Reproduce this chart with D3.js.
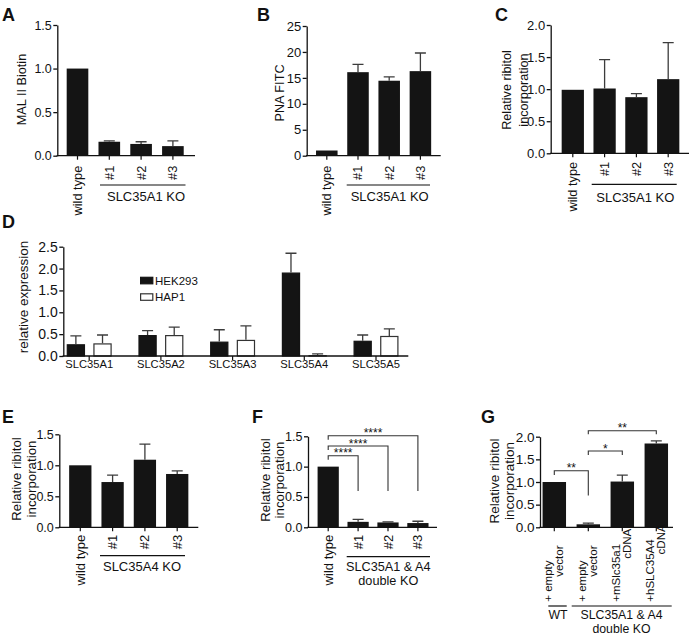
<!DOCTYPE html>
<html><head><meta charset="utf-8">
<script src="https://cdn.jsdelivr.net/npm/d3@7"></script>
<style>
body{margin:0;background:#fff;}
svg text{font-family:"Liberation Sans",Arial,Helvetica,sans-serif;fill:#111;}
</style></head><body>
<svg id="c" width="690" height="636"></svg>
<script>
// ---------- data ----------
const koCats = ["wild type", "#1", "#2", "#3"];
const aVals = [1.0, 0.16, 0.135, 0.11];
const aErr  = [0, 0.01, 0.025, 0.06];
const bVals = [1.0, 16.1, 14.45, 16.3];
const bErr  = [0, 1.5, 0.75, 3.5];
const cVals = [0.99, 1.01, 0.875, 1.156];
const cErr  = [0, 0.45, 0.055, 0.57];
const dGenes = ["SLC35A1", "SLC35A2", "SLC35A3", "SLC35A4", "SLC35A5"];
const dSeries = ["HEK293", "HAP1"];
const dHek    = [0.27, 0.48, 0.33, 1.91, 0.35];
const dHekErr = [0.19, 0.10, 0.27, 0.44, 0.13];
const dHap    = [0.29, 0.48, 0.37, 0.02, 0.46];
const dHapErr = [0.19, 0.18, 0.32, 0.03, 0.16];
const eVals = [1.0, 0.73, 1.09, 0.86];
const eErr  = [0, 0.11, 0.25, 0.05];
const fVals = [1.0, 0.09, 0.08, 0.07];
const fErr  = [0, 0.04, 0.01, 0.03];
const gCats  = ["WT empty", "DKO empty", "DKO mSlc35a1", "DKO hSLC35A4"];
const gLine1 = ["+ empty", "+ empty", "+mSlc35a1", "+hSLC35A4"];
const gLine2 = ["vector", "vector", "cDNA", "cDNA"];
const gVals = [1.0, 0.066, 1.01, 1.85];
const gErr  = [0, 0.024, 0.14, 0.06];
const fSig = [{a: 0, b: 1, label: "****"}, {a: 0, b: 2, label: "****"}, {a: 0, b: 3, label: "****"}];
const gSig = [{a: 0, b: 1, label: "**"}, {a: 1, b: 2, label: "*"}, {a: 1, b: 3, label: "**"}];
const ticks15 = [0, 0.5, 1.0, 1.5];
const ticks20 = [0, 0.5, 1.0, 1.5, 2.0];
const ticks25 = [0, 0.5, 1.0, 1.5, 2.0, 2.5];
const ticksB  = [0, 5, 10, 15, 20, 25];

// ---------- drawing ----------
const svg = d3.select("#c");
const BAR = "#141414", ERR = "#3c3c3c", AX = "#111";
const FONT = '"Liberation Sans",Arial,Helvetica,sans-serif';

function letter(t, x, y) {
  svg.append("text").attr("x", x).attr("y", y).attr("font-size", 18)
    .attr("font-weight", "bold").text(t);
}

function yAxis(g, y, x0, ticks, fmt, fs) {
  const ax = g.append("g").attr("transform", `translate(${x0},0)`)
    .call(d3.axisLeft(y).tickValues(ticks).tickFormat(fmt).tickSize(4).tickSizeOuter(0).tickPadding(1.5));
  ax.attr("font-size", fs).attr("font-family", FONT);
  ax.selectAll("path,line").attr("stroke", AX).attr("stroke-width", 1.3);
  ax.selectAll("text").attr("fill", "#111");
  return ax;
}

function yTitle(g, lines, xs, yc, fs) {
  lines.forEach((t, i) => g.append("text")
    .attr("transform", `translate(${xs[i]},${yc}) rotate(-90)`)
    .attr("text-anchor", "middle").attr("dy", "0.35em").attr("font-size", fs).text(t));
}

function group(g, x0, x1, ly, lines, cx, bases, fs) {
  g.append("line").attr("x1", x0).attr("x2", x1).attr("y1", ly).attr("y2", ly)
    .attr("stroke", AX).attr("stroke-width", 1.2);
  lines.forEach((t, i) => g.append("text").attr("x", cx).attr("y", bases[i])
    .attr("text-anchor", "middle").attr("font-size", fs).text(t));
}

function errPath(cx, yv, yt, cap) {
  return `M${cx},${yv}V${yt}M${cx - cap / 2},${yt}H${cx + cap / 2}`;
}

function panel(o) {
  const g = svg.append("g");
  const y = d3.scaleLinear().domain([0, o.yMax]).range([o.y0, o.yTop]);
  const x = d3.scaleBand().domain(o.cats).range([o.bx0, o.bx1])
    .paddingInner(o.pi).paddingOuter(o.pi / 2);
  const cxf = c => x(c) + x.bandwidth() / 2;
  const data = o.cats.map((c, i) => ({c, v: o.vals[i], e: o.errs[i]}));
  g.selectAll("rect.bar").data(data).join("rect").attr("class", "bar")
    .attr("x", d => x(d.c)).attr("width", x.bandwidth())
    .attr("y", d => y(d.v)).attr("height", d => y(0) - y(d.v)).attr("fill", BAR);
  g.selectAll("path.err").data(data.filter(d => d.e > 0)).join("path").attr("class", "err")
    .attr("fill", "none").attr("stroke", ERR).attr("stroke-width", 1.3)
    .attr("d", d => errPath(cxf(d.c), y(d.v), y(d.v + d.e), 11));
  yAxis(g, y, o.ax0, o.ticks, d3.format(o.fmt), o.tfs);
  // x axis
  g.append("line").attr("x1", o.ax0 - 0.65).attr("x2", o.ax1).attr("y1", o.y0).attr("y2", o.y0)
    .attr("stroke", AX).attr("stroke-width", 1.3);
  g.selectAll("line.xt").data(o.cats).join("line").attr("class", "xt")
    .attr("x1", cxf).attr("x2", cxf).attr("y1", o.y0).attr("y2", o.y0 + 4)
    .attr("stroke", AX).attr("stroke-width", 1.2);
  if (o.rot) {
    g.selectAll("text.xl").data(o.cats).join("text").attr("class", "xl")
      .attr("transform", d => `translate(${cxf(d)},${o.y0 + o.lo}) rotate(-90)`)
      .attr("text-anchor", "end").attr("dy", "0.35em").attr("font-size", o.lfs).text(d => d);
  }
  yTitle(g, o.title, o.titleX, o.titleY, o.titleFs);
  if (o.grp) group(g, ...o.grp);
  return {g, x, y, cxf};
}

function brackets(p, sig, lineYs, legs, fs) {
  sig.forEach((s, i) => {
    const xa = p.cxf(p.x.domain()[s.a]), xb = p.cxf(p.x.domain()[s.b]);
    const ly = lineYs[i];
    p.g.append("path").attr("fill", "none").attr("stroke", "#333").attr("stroke-width", 1.1)
      .attr("d", `M${xa},${ly + legs[i][0]}V${ly}H${xb}V${legs[i][1]}`);
    p.g.append("text").attr("x", (xa + xb) / 2).attr("y", ly + 1.5)
      .attr("text-anchor", "middle").attr("font-size", fs).text(s.label);
  });
}

// Panel A
letter("A", 2, 21);
panel({cats: koCats, vals: aVals, errs: aErr, yMax: 1.5, y0: 155.7, yTop: 25,
  ax0: 57.3, ax1: 195, bx0: 61.6, bx1: 188.8, pi: 0.32, ticks: ticks15, fmt: ".1f", tfs: 12.5,
  rot: true, lo: 10, lfs: 12.8, title: ["MAL II Biotin"], titleX: [21.7], titleY: 89.5, titleFs: 12.7,
  grp: [100, 185.5, 185, ["SLC35A1 KO"], 146, [201], 13]});

// Panel B
letter("B", 257, 21);
panel({cats: koCats, vals: bVals, errs: bErr, yMax: 25, y0: 155.7, yTop: 26,
  ax0: 306.7, ax1: 440.7, bx0: 311.2, bx1: 436, pi: 0.31, ticks: ticksB, fmt: "d", tfs: 13,
  rot: true, lo: 10, lfs: 12.8, title: ["PNA FITC"], titleX: [280], titleY: 93, titleFs: 12.7,
  grp: [346.7, 430, 185, ["SLC35A1 KO"], 389.7, [201], 13]});

// Panel C
letter("C", 495, 21);
panel({cats: koCats, vals: cVals, errs: cErr, yMax: 2.0, y0: 153.3, yTop: 25,
  ax0: 550.7, ax1: 689, bx0: 556.9, bx1: 684.1, pi: 0.30, ticks: ticks20, fmt: ".1f", tfs: 13,
  rot: true, lo: 8.5, lfs: 12.8, title: ["Relative ribitol", "incorporation"], titleX: [506.5, 523.5],
  titleY: 90, titleFs: 12.7,
  grp: [591.7, 676.7, 184.3, ["SLC35A1 KO"], 635.3, [202], 13]});

// Panel D
letter("D", 2, 228);
(function () {
  const g = svg.append("g");
  const y = d3.scaleLinear().domain([0, 2.5]).range([356, 246.7]);
  const x0 = d3.scaleBand().domain(dGenes).range([53.35, 411.85]);
  const x1 = d3.scaleBand().domain(dSeries).range([-22.5, 22.5]).paddingInner(0.311);
  const vals = {HEK293: dHek, HAP1: dHap}, errs = {HEK293: dHekErr, HAP1: dHapErr};
  const fills = {HEK293: BAR, HAP1: "#fff"}, strokes = {HEK293: BAR, HAP1: "#333"};
  const data = [];
  dGenes.forEach((gn, i) => dSeries.forEach(s => data.push({gn, s, v: vals[s][i], e: errs[s][i]})));
  const gc = gn => x0(gn) + x0.bandwidth() / 2;
  g.selectAll("rect.bar").data(data).join("rect").attr("class", "bar")
    .attr("x", d => gc(d.gn) + x1(d.s) + 0.6).attr("width", x1.bandwidth() - 1.2)
    .attr("y", d => y(d.v) + 0.6).attr("height", d => Math.max(0, y(0) - y(d.v) - 0.6))
    .attr("fill", d => fills[d.s]).attr("stroke", d => strokes[d.s]).attr("stroke-width", 1.2);
  g.selectAll("path.err").data(data).join("path").attr("class", "err")
    .attr("fill", "none").attr("stroke", ERR).attr("stroke-width", 1.3)
    .attr("d", d => errPath(gc(d.gn) + x1(d.s) + x1.bandwidth() / 2, y(d.v), y(d.v + d.e), 11));
  yAxis(g, y, 63.3, ticks25, d3.format(".1f"), 14);
  g.append("line").attr("x1", 62.65).attr("x2", 408.3).attr("y1", 356).attr("y2", 356)
    .attr("stroke", AX).attr("stroke-width", 1.3);
  g.selectAll("line.xt").data(dGenes).join("line").attr("class", "xt")
    .attr("x1", gc).attr("x2", gc).attr("y1", 356).attr("y2", 360)
    .attr("stroke", AX).attr("stroke-width", 1.2);
  g.selectAll("text.xl").data(dGenes).join("text").attr("class", "xl")
    .attr("x", gc).attr("y", 367.7).attr("text-anchor", "middle").attr("font-size", 11.2).text(d => d);
  yTitle(g, ["relative expression"], [23.3], 297, 13.5);
  // legend
  const lg = g.selectAll("g.lg").data(dSeries).join("g").attr("class", "lg")
    .attr("transform", (d, i) => `translate(140,${276.7 + i * 16.5})`);
  lg.append("rect").attr("x", 0.6).attr("y", 0.6).attr("width", 12.2).attr("height", 6.5)
    .attr("fill", d => fills[d]).attr("stroke", d => strokes[d]).attr("stroke-width", 1.2);
  lg.append("text").attr("x", 15).attr("y", 8).attr("font-size", 11.5).text(d => d);
})();

// Panel E
letter("E", 2, 423);
panel({cats: koCats, vals: eVals, errs: eErr, yMax: 1.5, y0: 527.3, yTop: 434.3,
  ax0: 59.3, ax1: 198.3, bx0: 64.15, bx1: 193.35, pi: 0.31, ticks: ticks15, fmt: ".1f", tfs: 12.5,
  rot: true, lo: 7.5, lfs: 13, title: ["Relative ribitol", "incorporation"], titleX: [16, 31.5],
  titleY: 479, titleFs: 13.3,
  grp: [100, 185, 555.7, ["SLC35A4 KO"], 142, [570.7], 13]});

// Panel F
letter("F", 252, 423);
const pF = panel({cats: koCats, vals: fVals, errs: fErr, yMax: 1.5, y0: 527.3, yTop: 436.3,
  ax0: 308, ax1: 437, bx0: 313.25, bx1: 432.85, pi: 0.29, ticks: ticks15, fmt: ".1f", tfs: 12.5,
  rot: true, lo: 7.5, lfs: 13, title: ["Relative ribitol", "incorporation"], titleX: [265, 279],
  titleY: 480, titleFs: 13.3,
  grp: [346.7, 430, 556.7, ["SLC35A1 & A4", "double KO"], 388.3, [570.7, 585], 12.7]});
brackets(pF, fSig, [455.7, 446, 435.7],
  [[4, pF.y(0.6)], [4, pF.y(0.6)], [4, pF.y(0.6)]], 12);

// Panel G
letter("G", 481, 423);
const pG = panel({cats: gCats, vals: gVals, errs: gErr, yMax: 2.0, y0: 527.3, yTop: 436.7,
  ax0: 540, ax1: 673, bx0: 537.3, bx1: 673.3, pi: 0.31, ticks: ticks20, fmt: ".1f", tfs: 13.5,
  rot: false, title: ["Relative ribitol", "incorporation"], titleX: [494, 509],
  titleY: 481, titleFs: 13.5});
brackets(pG, gSig, [470.7, 451, 430.7],
  [[4.3, pG.y(0.7)], [4, 455], [3.5, 434.2]], 12);
gCats.forEach((c, i) => {
  const cx = pG.cxf(c);
  const t1 = pG.g.append("text").attr("transform", `translate(${cx - 6.5},601.7) rotate(-90)`)
    .attr("text-anchor", "start").attr("dy", "0.35em").attr("font-size", 11.5).text(gLine1[i]);
  const len = t1.node().getComputedTextLength();
  pG.g.append("text").attr("transform", `translate(${cx + 4.5},${601.7 - len - 15}) rotate(-90)`)
    .attr("text-anchor", "end").attr("dy", "0.35em").attr("font-size", 11.5).text(gLine2[i]);
});
group(pG.g, 548.3, 566.7, 606, ["WT"], 558, [619.3], 12.3);
group(pG.g, 571.7, 671.7, 606, ["SLC35A1 & A4", "double KO"], 621.5, [619, 632.5], 12.3);
</script>
</body></html>
